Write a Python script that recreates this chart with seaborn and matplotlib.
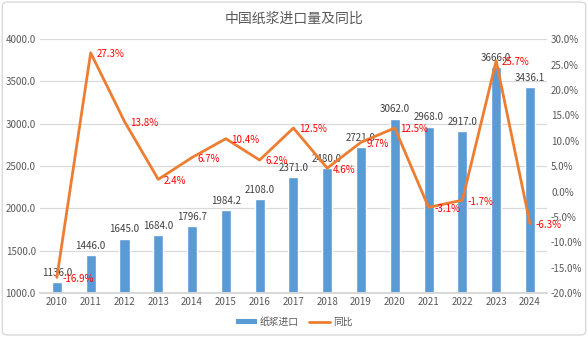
import matplotlib
matplotlib.use("Agg")
import matplotlib.pyplot as plt
import seaborn as sns
import numpy as np
import pandas as pd
from matplotlib.patches import FancyBboxPatch
from matplotlib.lines import Line2D
from matplotlib.patches import Patch

years = ["2010", "2011", "2012", "2013", "2014", "2015", "2016", "2017",
         "2018", "2019", "2020", "2021", "2022", "2023", "2024"]
imports = [1136.0, 1446.0, 1645.0, 1684.0, 1796.7, 1984.2, 2108.0, 2371.0,
           2480.0, 2721.0, 3062.0, 2968.0, 2917.0, 3666.0, 3436.1]
yoy = [-16.9, 27.3, 13.8, 2.4, 6.7, 10.4, 6.2, 12.5, 4.6, 9.7, 12.5, -3.1, -1.7, 25.7, -6.3]

sns.set_theme(style="white")
plt.rcParams['font.family'] = ['Noto Sans CJK SC', 'DejaVu Sans']

df = pd.DataFrame({"year": years, "imports": imports, "yoy": yoy})

fig = plt.figure(figsize=(5.88, 3.37), dpi=100)
ax = fig.add_axes([0.068, 0.13, 0.862, 0.754])
ax2 = ax.twinx()

bar_c = "#5B9BD5"
line_c = "#ED7D31"

sns.barplot(data=df, x="year", y="imports", color=bar_c, width=0.3, ax=ax,
            saturation=1)
ax.set_ylim(1000, 4000)
ax.set_yticks(np.arange(1000, 4001, 500))
ax.set_yticklabels([f"{v:.1f}" for v in np.arange(1000, 4001, 500)])
ax.yaxis.grid(True, color="#D9D9D9", linewidth=0.9)
ax.set_axisbelow(True)
ax.set_xlabel("")
ax.set_ylabel("")
ax.set_xlim(-0.5, len(years) - 0.5)

xpos = np.arange(len(years))
sns.lineplot(x=xpos, y=df["yoy"].values, color=line_c, linewidth=2, ax=ax2)
ax2.set_ylim(-20, 30)
ax2.set_yticks(np.arange(-20, 31, 5))
ax2.set_yticklabels([f"{v:.1f}%" for v in np.arange(-20, 31, 5)])
ax2.set_xlim(-0.5, len(years) - 0.5)
ax2.set_ylabel("")

for a in (ax, ax2):
    for s in ["top", "left", "right"]:
        a.spines[s].set_visible(False)
    a.spines["bottom"].set_color("#D9D9D9")
    a.tick_params(axis="both", length=0, labelsize=7, colors="#595959", pad=3)

for i, v in enumerate(imports):
    ax.annotate(f"{v:.1f}", (i, v), xytext=(0, 3), textcoords="offset points",
                ha="center", va="bottom", fontsize=7, color="#404040")

for i, v in enumerate(yoy):
    ax2.annotate(f"{v:.1f}%", (i, v), xytext=(4, -1), textcoords="offset points",
                 ha="left", va="center", fontsize=7, color="#FF0000")

fig.text(0.5, 0.945, "中国纸浆进口量及同比", ha="center", va="center",
         fontsize=10, color="#595959")

handles = [Patch(facecolor=bar_c, edgecolor="none", label="纸浆进口"),
           Line2D([0], [0], color=line_c, lw=2, label="同比")]
fig.legend(handles=handles, loc="center", bbox_to_anchor=(0.5, 0.045), ncol=2,
           frameon=False, fontsize=7, handlelength=2.2, handleheight=0.5,
           columnspacing=1.0, handletextpad=0.3, labelcolor="#595959")

border = FancyBboxPatch((0.004, 0.006), 0.992, 0.988, boxstyle="round,pad=0,rounding_size=0.01",
                        transform=fig.transFigure, fill=False, edgecolor="#D9D9D9", linewidth=1)
fig.patches.append(border)

fig.savefig("out.png", dpi=100)
